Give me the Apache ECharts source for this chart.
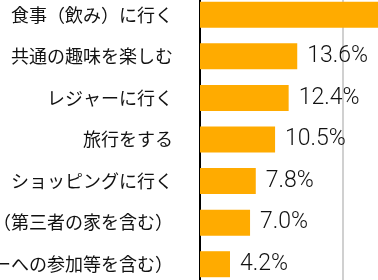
<!DOCTYPE html>
<html><head><meta charset="utf-8">
<script src="https://cdn.jsdelivr.net/npm/echarts@6/dist/echarts.min.js"></script>
<style>html,body{margin:0;padding:0;background:#fff}#c{width:378px;height:280px}</style>
</head><body><div id="c"></div>
<script>
const categories = ["食事（飲み）に行く","共通の趣味を楽しむ","レジャーに行く","旅行をする","ショッピングに行く","お互いの家を訪問する（第三者の家を含む）","イベントに行く（パーティーへの参加等を含む）"];
const values = [27.5, 13.6, 12.4, 10.5, 7.8, 7.0, 4.2];
const chart = echarts.init(document.getElementById('c'));
chart.setOption({
  animation:false,
  grid:{left:200, top:-6, bottom:-5, width:286, containLabel:false, outerBoundsMode:'none'},
  xAxis:{type:'value', min:0, max:40, interval:20, axisLabel:{show:false}, axisLine:{show:false}, axisTick:{show:false},
    splitLine:{lineStyle:{color:'#d0d0d0', width:2}}},
  yAxis:{type:'category', data:categories, inverse:true, axisTick:{show:false},
    axisLine:{lineStyle:{color:'#000', width:2}},
    axisLabel:{margin:27, fontSize:18, color:'#111', fontFamily:'Noto Sans CJK JP'}},
  series:[{type:'bar', data:values, barWidth:26, itemStyle:{color:'#FFAB00'},
    label:{show:true, position:'right', distance:10, fontSize:23, fontWeight:300, color:'#111',
      fontFamily:'Roboto, sans-serif',
      formatter:p=>p.value.toFixed(1)+'%'}}]
});
</script></body></html>
